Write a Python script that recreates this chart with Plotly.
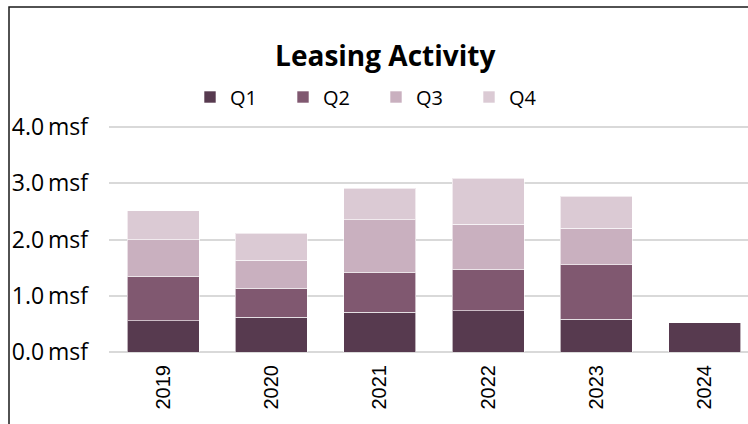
import plotly.graph_objects as go

years = ["2019", "2020", "2021", "2022", "2023", "2024"]
q1 = [0.56, 0.62, 0.71, 0.73, 0.58, 0.52]
q2 = [0.79, 0.51, 0.71, 0.74, 0.97, None]
q3 = [0.65, 0.50, 0.93, 0.80, 0.65, None]
q4 = [0.51, 0.48, 0.56, 0.82, 0.57, None]

quarters = ["Q1", "Q2", "Q3", "Q4"]
series = [q1, q2, q3, q4]
colors = ["#573a4f", "#805870", "#c9b0bf", "#dbcad4"]
yticks = [0, 1, 2, 3, 4]

fig = go.Figure()
for name, vals, col in zip(quarters, series, colors):
    fig.add_trace(go.Bar(
        x=years, y=vals, name=name,
        marker=dict(color=col, line=dict(color="rgba(255,255,255,0.6)", width=1)),
    ))

fig.update_layout(
    width=748, height=424,
    barmode="stack", bargap=0.335,
    plot_bgcolor="white", paper_bgcolor="white",
    margin=dict(l=109, r=0, t=124, b=72, autoexpand=False),
    font=dict(family="Open Sans", size=20, color="#000000"),
    title=dict(text="<b>Leasing Activity</b>", x=0.515, xanchor="center",
               y=1 - 56 / 424, yanchor="middle",
               font=dict(family="Open Sans", size=28, color="#000000")),
    legend=dict(orientation="h", x=190 / 748, xref="container", xanchor="left",
                y=1 - 97 / 424, yref="container", yanchor="middle",
                entrywidth=48, traceorder="normal",
                font=dict(family="Open Sans", size=20, color="#000000")),
    xaxis=dict(range=[-0.5, 5.4], tickangle=-90, showgrid=False,
               tickfont=dict(family="Liberation Sans", size=20, color="#000000"),
               ticks="", showline=False, ticklabelstandoff=8),
    yaxis=dict(range=[0, 4 + 3 / 56], tickvals=yticks,
               ticktext=[f"{v:.1f}\u2009msf" for v in yticks],
               showgrid=True, gridcolor="#d9d9d9", gridwidth=1.5,
               zeroline=True, zerolinecolor="#d9d9d9", zerolinewidth=1.5,
               tickfont=dict(family="Open Sans", size=23, color="#000000"),
               ticklabelstandoff=20),
)

# chart frame (left and top edges visible in the crop)
fig.add_shape(type="rect", xref="paper", yref="paper",
              x0=(9 - 109) / 639, x1=1.2, y0=-0.5, y1=(352 - 7) / 228,
              line=dict(color="#1a1a1a", width=1.5), fillcolor="rgba(0,0,0,0)",
              layer="below")

fig.write_html("out.html", config={"displayModeBar": False},
               post_script="document.body.style.margin='0';")
